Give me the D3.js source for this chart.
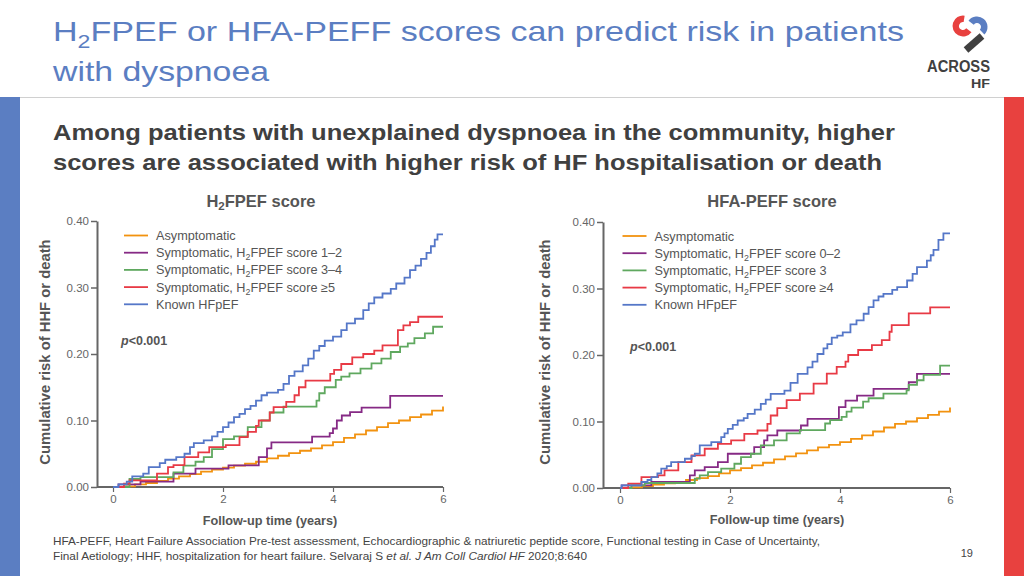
<!DOCTYPE html>
<html><head><meta charset="utf-8">
<script src="https://cdn.jsdelivr.net/npm/d3@7"></script>
<style>
html,body{margin:0;padding:0;background:#fff;}
svg{display:block;font-family:"Liberation Sans",Arial,Helvetica,sans-serif;}
</style></head>
<body>
<svg id="chart" width="1024" height="576"></svg>
<script>
// ---------- DATA ----------
const xTicks = [0, 2, 4, 6];
const yTicks = [0.0, 0.1, 0.2, 0.3, 0.4];

const leftLegend = ["Asymptomatic", "Symptomatic, H|2|FPEF score 1–2", "Symptomatic, H|2|FPEF score 3–4", "Symptomatic, H|2|FPEF score ≥5", "Known HFpEF"];
const rightLegend = ["Asymptomatic", "Symptomatic, H|2|FPEF score 0–2", "Symptomatic, H|2|FPEF score 3", "Symptomatic, H|2|FPEF score ≥4", "Known HFpEF"];

// H2FPEF panel
const h2Asymptomatic = [[0,0],[0.2,0.001],[0.4,0.004],[0.6,0.006],[0.8,0.009],[1.0,0.0125],[1.2,0.016],[1.4,0.0195],[1.6,0.023],[1.8,0.026],[2.0,0.029],[2.2,0.032],[2.4,0.035],[2.6,0.038],[2.8,0.043],[3.0,0.047],[3.2,0.051],[3.4,0.0545],[3.6,0.058],[3.8,0.0625],[4.0,0.0675],[4.2,0.074],[4.4,0.079],[4.6,0.085],[4.8,0.09],[5.0,0.096],[5.2,0.1],[5.4,0.105],[5.6,0.109],[5.8,0.115],[6.0,0.121]];
const h2Score12 = [[0,0],[0.1,0.004],[0.5,0.008],[1.1,0.02],[1.5,0.0275],[2.1,0.0325],[2.65,0.045],[2.8,0.058],[2.88,0.067],[3.62,0.0757],[3.94,0.081],[4.0,0.088],[4.07,0.1],[4.16,0.1075],[4.31,0.1125],[4.52,0.1195],[5.04,0.137],[6.0,0.137]];
const h2Score34 = [[0,0],[0.3,0.012],[0.5,0.015],[1.1,0.022],[1.28,0.032],[1.5,0.038],[1.65,0.045],[1.8,0.057],[2.0,0.072],[2.2,0.076],[2.45,0.09],[2.7,0.1],[2.85,0.112],[3.1,0.121],[3.7,0.13],[3.75,0.141],[3.85,0.15],[4.05,0.161],[4.15,0.166],[4.3,0.171],[4.5,0.178],[4.7,0.186],[4.88,0.193],[5.05,0.203],[5.22,0.211],[5.36,0.216],[5.48,0.224],[5.67,0.231],[5.82,0.241],[6.0,0.241]];
const h2Score5 = [[0,0],[0.2,0.005],[0.3,0.01],[0.8,0.02],[1.0,0.03],[1.1,0.033],[1.3,0.045],[1.55,0.052],[1.75,0.06],[2.05,0.063],[2.3,0.075],[2.45,0.083],[2.6,0.092],[2.65,0.1],[2.85,0.112],[2.92,0.12],[3.15,0.128],[3.3,0.138],[3.38,0.15],[3.5,0.16],[3.95,0.17],[4.02,0.176],[4.15,0.185],[4.35,0.195],[4.55,0.2],[4.75,0.205],[4.9,0.213],[5.18,0.236],[5.28,0.243],[5.4,0.248],[5.55,0.256],[6.0,0.256]];
const h2KnownHFpEF = [[0,0],[0.1,0.004],[0.25,0.008],[0.35,0.016],[0.55,0.02],[0.65,0.03],[0.85,0.036],[0.95,0.041],[1.15,0.045],[1.3,0.05],[1.4,0.06],[1.47,0.066],[1.65,0.07],[1.8,0.076],[1.9,0.083],[2.0,0.09],[2.1,0.097],[2.2,0.105],[2.3,0.11],[2.4,0.117],[2.5,0.122],[2.6,0.13],[2.7,0.138],[2.8,0.142],[3.0,0.146],[3.1,0.155],[3.2,0.167],[3.3,0.174],[3.45,0.183],[3.55,0.193],[3.65,0.205],[3.75,0.212],[3.85,0.22],[4.0,0.226],[4.15,0.236],[4.25,0.246],[4.4,0.253],[4.55,0.266],[4.65,0.276],[4.75,0.285],[4.9,0.291],[5.05,0.298],[5.15,0.306],[5.3,0.315],[5.4,0.326],[5.5,0.333],[5.6,0.343],[5.7,0.352],[5.78,0.362],[5.85,0.372],[5.9,0.38],[6.0,0.38]];

// HFA-PEFF panel
const hfaAsymptomatic = [[0,0],[0.2,0.001],[0.4,0.003],[0.6,0.005],[0.8,0.007],[1.0,0.009],[1.2,0.012],[1.4,0.015],[1.6,0.018],[1.8,0.022],[2.0,0.0265],[2.2,0.03],[2.4,0.034],[2.6,0.038],[2.8,0.043],[3.0,0.0475],[3.2,0.052],[3.4,0.0565],[3.6,0.061],[3.8,0.065],[4.0,0.069],[4.2,0.074],[4.4,0.079],[4.6,0.085],[4.8,0.091],[5.0,0.0965],[5.2,0.1],[5.4,0.105],[5.6,0.11],[5.8,0.115],[6.0,0.121]];
const hfaScore02 = [[0,0],[0.03,0.004],[0.57,0.009],[1.27,0.019],[1.36,0.0265],[1.54,0.0315],[1.78,0.039],[1.96,0.0515],[2.44,0.0615],[2.62,0.0715],[2.68,0.079],[2.86,0.0865],[3.29,0.094],[3.41,0.104],[3.98,0.1215],[4.1,0.1315],[4.31,0.139],[4.61,0.149],[5.25,0.159],[5.4,0.1715],[6.0,0.1715]];
const hfaScore3 = [[0,0],[0.21,0.004],[0.45,0.0075],[1.36,0.014],[1.45,0.019],[1.6,0.024],[1.84,0.029],[2.08,0.0365],[2.2,0.0465],[2.38,0.0515],[2.56,0.064],[2.8,0.0715],[3.03,0.082],[3.27,0.087],[3.73,0.097],[3.82,0.102],[4.03,0.107],[4.12,0.115],[4.21,0.121],[4.42,0.13],[4.52,0.135],[4.79,0.142],[5.21,0.147],[5.25,0.155],[5.4,0.162],[5.52,0.17],[5.82,0.184],[6.0,0.184]];
const hfaScore4 = [[0,0],[0.15,0.0065],[0.39,0.0165],[0.69,0.019],[0.81,0.0265],[1.06,0.039],[1.3,0.049],[1.54,0.059],[1.78,0.0665],[2.02,0.0715],[2.26,0.0815],[2.5,0.0865],[2.68,0.0965],[2.74,0.109],[2.86,0.12],[3.03,0.132],[3.27,0.142],[3.52,0.157],[3.76,0.172],[3.94,0.182],[4.1,0.19],[4.15,0.2],[4.33,0.2075],[4.58,0.215],[4.76,0.2225],[4.9,0.235],[4.94,0.245],[5.25,0.2627],[5.64,0.2717],[6.0,0.2717]];
const hfaKnownHFpEF = [[0,0],[0.03,0.004],[0.39,0.009],[0.5,0.012],[0.57,0.0165],[0.68,0.022],[0.75,0.029],[0.85,0.033],[0.93,0.039],[1.18,0.044],[1.3,0.048],[1.36,0.0515],[1.45,0.064],[1.66,0.069],[1.84,0.0765],[1.9,0.082],[1.96,0.089],[2.05,0.095],[2.14,0.1015],[2.25,0.105],[2.32,0.1115],[2.45,0.118],[2.56,0.1265],[2.65,0.133],[2.74,0.1415],[2.99,0.1465],[3.1,0.158],[3.23,0.1715],[3.41,0.1815],[3.5,0.19],[3.59,0.2015],[3.7,0.21],[3.77,0.2165],[3.85,0.226],[3.95,0.229],[4.05,0.234],[4.19,0.246],[4.3,0.252],[4.43,0.262],[4.52,0.272],[4.61,0.282],[4.7,0.288],[4.79,0.292],[4.95,0.298],[5.04,0.302],[5.22,0.312],[5.32,0.322],[5.4,0.332],[5.58,0.342],[5.65,0.35],[5.7,0.358],[5.79,0.373],[5.88,0.383],[6.0,0.383]];

const seriesColors = ["#f2920f", "#862a85", "#5fa85f", "#e83a45", "#5577c8"];

// ---------- DRAW ----------
const svg = d3.select("#chart");
const BLUE = "#5b7ec2", RED = "#e8413f", TXT = "#404040", GREY = "#595959";

svg.append("rect").attr("x",0).attr("y",97).attr("width",20).attr("height",479).attr("fill",BLUE);
svg.append("rect").attr("x",1004).attr("y",97).attr("width",20).attr("height",479).attr("fill",RED);
svg.append("line").attr("x1",20).attr("x2",1004).attr("y1",97.5).attr("y2",97.5).attr("stroke","#d0d0d0").attr("stroke-width",1);

function fitText(sel, target, mode){
  const w = sel.node().getComputedTextLength();
  if (Math.abs(w-target) > 2) sel.attr("textLength", target).attr("lengthAdjust", mode || "spacingAndGlyphs");
}

// title
const t1 = svg.append("text").attr("x",53).attr("y",41).attr("fill",BLUE).attr("font-size",28);
t1.append("tspan").text("H");
t1.append("tspan").attr("font-size",19).attr("dy",7).text("2");
t1.append("tspan").attr("dy",-7).text("FPEF or HFA-PEFF scores can predict risk in patients");
fitText(t1, 851);
const t2 = svg.append("text").attr("x",53).attr("y",81).attr("fill",BLUE).attr("font-size",28).text("with dyspnoea");
fitText(t2, 216);

// subtitle
const s1 = svg.append("text").attr("x",53).attr("y",140).attr("fill",TXT).attr("font-size",22).attr("font-weight","bold")
  .text("Among patients with unexplained dyspnoea in the community, higher");
fitText(s1, 842);
const s2 = svg.append("text").attr("x",53).attr("y",170).attr("fill",TXT).attr("font-size",22).attr("font-weight","bold")
  .text("scores are associated with higher risk of HF hospitalisation or death");
fitText(s2, 829);

// logo
const logo = svg.append("g");
logo.append("path").attr("d", d3.arc()({innerRadius:4,outerRadius:10.5,startAngle:-1.3*Math.PI,endAngle:0.05*Math.PI}))
  .attr("transform","translate(963,26)").attr("fill","#e8413f");
logo.append("path").attr("d", d3.arc()({innerRadius:4,outerRadius:10.5,startAngle:-0.3*Math.PI,endAngle:0.75*Math.PI}))
  .attr("transform","translate(977,27)").attr("fill","#5b7ec2");
logo.append("line").attr("x1",966).attr("y1",50).attr("x2",982).attr("y2",36).attr("stroke","#404040").attr("stroke-width",7);
logo.append("text").attr("x",990).attr("y",72).attr("text-anchor","end").attr("font-size",16).attr("font-weight","bold").attr("fill","#404040")
  .attr("textLength",63).attr("lengthAdjust","spacingAndGlyphs").text("ACROSS");
logo.append("text").attr("x",990).attr("y",88).attr("text-anchor","end").attr("font-size",13).attr("font-weight","bold").attr("fill","#404040")
  .attr("textLength",19).attr("lengthAdjust","spacingAndGlyphs").text("HF");

function richText(g, str){
  const parts = str.split("|");
  parts.forEach((p,i)=>{
    if (i===1) g.append("tspan").attr("font-size","0.7em").attr("dy",3).text(p);
    else if (i===2) g.append("tspan").attr("dy",-3).text(p);
    else g.append("tspan").text(p);
  });
}

function panel(cfg){
  const x = d3.scaleLinear().domain([0,6]).range([cfg.x0, cfg.x1]);
  const y = d3.scaleLinear().domain([0,0.4]).range([cfg.y0, cfg.y1]);
  const g = svg.append("g");

  const yAxis = d3.axisLeft(y).tickValues(yTicks).tickFormat(d3.format(".2f")).tickSize(6).tickSizeOuter(0);
  const ya = g.append("g").attr("transform",`translate(${cfg.ax},0)`).call(yAxis);
  ya.select(".domain").attr("stroke","#666").attr("stroke-width",2);
  ya.selectAll(".tick line").attr("stroke","#666").attr("stroke-width",1.5);
  ya.selectAll(".tick text").attr("fill","#666").attr("font-size",11.5).attr("font-family","Liberation Sans, Arial").attr("x",-8);

  const xa = g.append("g").attr("transform",`translate(0,${cfg.y0})`)
    .call(d3.axisBottom(x).tickValues(xTicks).tickFormat(d3.format("d")).tickSize(5).tickSizeOuter(0));
  xa.select(".domain").attr("d",`M${cfg.ax},0H${cfg.x1}`).attr("stroke","#666").attr("stroke-width",2);
  xa.selectAll(".tick line").attr("stroke","#666").attr("stroke-width",1.2);
  xa.selectAll(".tick text").attr("fill","#666").attr("font-size",11.5).attr("font-family","Liberation Sans, Arial").attr("y",8);

  const line = d3.line().x(d=>x(d[0])).y(d=>y(d[1])).curve(d3.curveStepAfter);
  cfg.series.forEach((s,i)=>{
    g.append("path").datum(s).attr("d",line).attr("fill","none")
      .attr("stroke",seriesColors[i]).attr("stroke-width",1.8).attr("stroke-linejoin","miter");
  });
  cfg.legend.forEach((lab,i)=>{
    const ly = cfg.legY + i*17.2;
    g.append("line").attr("x1",cfg.legX).attr("x2",cfg.legX+24).attr("y1",ly).attr("y2",ly)
      .attr("stroke",seriesColors[i]).attr("stroke-width",1.8);
    const tx = g.append("text").attr("x",cfg.legX+32).attr("y",ly+4.5).attr("font-size",12.7).attr("fill","#555");
    richText(tx, lab);
  });
  const pt = g.append("text").attr("x",cfg.px).attr("y",cfg.py).attr("font-size",12.5).attr("font-weight","bold").attr("fill","#555");
  pt.append("tspan").attr("font-style","italic").text("p");
  pt.append("tspan").text("<0.001");

  const tt = g.append("text").attr("x",cfg.titleX).attr("y",207).attr("text-anchor","middle").attr("font-size",16.5)
    .attr("font-weight","bold").attr("fill","#555");
  richText(tt, cfg.title);

  g.append("text").attr("transform",`translate(${cfg.ylabX},352) rotate(-90)`).attr("text-anchor","middle")
    .attr("font-size",14.8).attr("font-weight","bold").attr("fill","#555").text("Cumulative risk of HHF or death");
  g.append("text").attr("x",cfg.xlabX).attr("y",cfg.xlabY).attr("text-anchor","middle")
    .attr("font-size",12.7).attr("font-weight","bold").attr("fill","#555").text("Follow-up time (years)");
}

panel({x0:113, x1:443, y0:487, y1:221, ax:97, series:[h2Asymptomatic,h2Score12,h2Score34,h2Score5,h2KnownHFpEF],
  legend:leftLegend, legX:124, legY:235.5, px:121, py:345, title:"H|2|FPEF score", titleX:261, ylabX:49.5, xlabX:270, xlabY:525});
panel({x0:620, x1:950, y0:488, y1:222, ax:603, series:[hfaAsymptomatic,hfaScore02,hfaScore3,hfaScore4,hfaKnownHFpEF],
  legend:rightLegend, legX:622.5, legY:236, px:630, py:351, title:"HFA-PEFF score", titleX:772, ylabX:550, xlabX:777, xlabY:524});

// footer
const f1 = svg.append("text").attr("x",53).attr("y",545).attr("font-size",11).attr("fill","#444")
  .text("HFA-PEFF, Heart Failure Association Pre-test assessment, Echocardiographic & natriuretic peptide score, Functional testing in Case of Uncertainty,");
fitText(f1, 767);
const f2 = svg.append("text").attr("x",53).attr("y",560).attr("font-size",11).attr("fill","#444");
f2.append("tspan").text("Final Aetiology; HHF, hospitalization for heart failure. Selvaraj S ");
f2.append("tspan").attr("font-style","italic").text("et al. J Am Coll Cardiol HF");
f2.append("tspan").text(" 2020;8:640");
fitText(f2, 534);
svg.append("text").attr("x",973).attr("y",557).attr("text-anchor","end").attr("font-size",11).attr("fill","#444").text("19");
</script>
</body></html>
